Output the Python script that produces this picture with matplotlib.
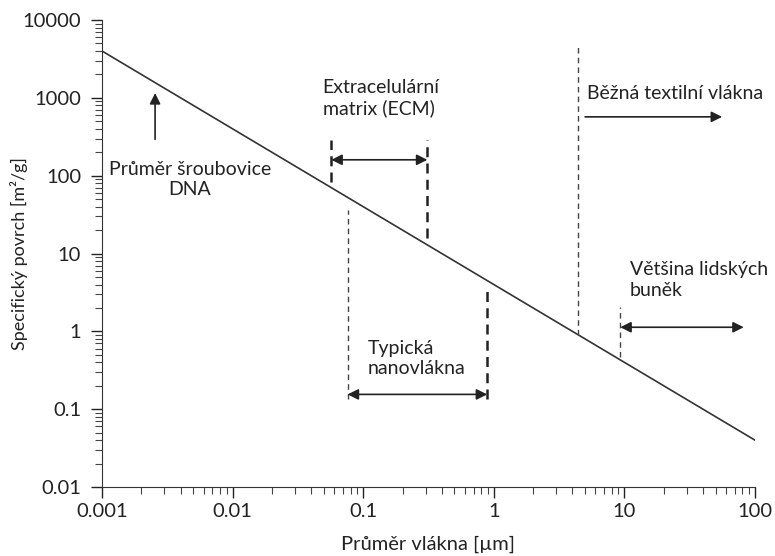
import matplotlib.pyplot as plt

plt.rcParams['font.family'] = ['Lato', 'DejaVu Sans']

# specific surface vs fiber diameter (log-log, slope -1)
diameter = [0.001, 100]
surface = [4000, 0.04]

x_ticks = [0.001, 0.01, 0.1, 1, 10, 100]
x_labels = ['0.001', '0.01', '0.1', '1', '10', '100']
y_ticks = [0.01, 0.1, 1, 10, 100, 1000, 10000]
y_labels = ['0.01', '0.1', '1', '10', '100', '1000', '10000']

dna_diameter = 0.00255
ecm_range = [0.057, 0.31]
nano_range = [0.076, 0.89]
textile_start = 4.4
cells_start = 9.3

fig = plt.figure(figsize=(7.75, 5.56), dpi=100)
ax = fig.add_axes([0.1316, 0.124, 0.8426, 0.840])

ax.plot(diameter, surface, color='#333333', lw=1.2)

ax.set_xscale('log')
ax.set_yscale('log')
ax.set_xlim(0.001, 100)
ax.set_ylim(0.01, 10000)
ax.set_xticks(x_ticks)
ax.set_xticklabels(x_labels)
ax.set_yticks(y_ticks)
ax.set_yticklabels(y_labels)
ax.tick_params(which='major', length=8, width=1, labelsize=14.5, colors='#222222')
ax.tick_params(axis='y', which='major', pad=7)
ax.tick_params(which='minor', length=5, width=0.8, colors='#444444')
for s in ['top', 'right']:
    ax.spines[s].set_visible(False)
for s in ['left', 'bottom']:
    ax.spines[s].set_color('#333333')

ax.set_xlabel('Průměr vlákna [µm]', fontsize=14.5, color='#222222')
ax.set_ylabel('Specifický povrch [m²/g]', fontsize=13, color='#222222')
ax.xaxis.set_label_coords(0.5, -0.103)
ax.yaxis.set_label_coords(-0.113, 0.5)

txt = dict(fontsize=14, color='#222222')
dark = '#222222'

# DNA
ax.annotate('', xy=(dna_diameter, 1250), xytext=(dna_diameter, 270),
            arrowprops=dict(arrowstyle='-|>', color=dark, lw=1.2, mutation_scale=16))
ax.text(0.0047, 90, 'Průměr šroubovice\nDNA', ha='center', va='center',
        multialignment='center', linespacing=1.25, **txt)

# ECM
ax.plot([ecm_range[0]] * 2, [83, 290], ls=(0, (4, 2.5)), color=dark, lw=1.8)
ax.plot([ecm_range[1]] * 2, [16, 290], ls=(0, (4, 2.5)), color=dark, lw=1.8)
ax.annotate('', xy=(ecm_range[0], 160), xytext=(ecm_range[1], 160),
            arrowprops=dict(arrowstyle='<|-|>', color=dark, lw=1.2, mutation_scale=16,
                            shrinkA=0, shrinkB=0))
ax.text(0.049, 1000, 'Extracelulární\nmatrix (ECM)', ha='left', va='center',
        linespacing=1.25, **txt)

# typical nanofibers
ax.plot([nano_range[0]] * 2, [0.135, 36], ls=(0, (4, 3)), color='#444444', lw=1.0)
ax.plot([nano_range[1]] * 2, [0.135, 3.4], ls=(0, (4, 2.5)), color=dark, lw=1.8)
ax.annotate('', xy=(nano_range[0], 0.155), xytext=(nano_range[1], 0.155),
            arrowprops=dict(arrowstyle='<|-|>', color=dark, lw=1.2, mutation_scale=16,
                            shrinkA=0, shrinkB=0))
ax.text(0.108, 0.45, 'Typická\nnanovlákna', ha='left', va='center',
        linespacing=1.25, **txt)

# textile fibers
ax.plot([textile_start] * 2, [0.9, 4800], ls=(0, (4, 3)), color='#444444', lw=1.0)
ax.annotate('', xy=(56, 570), xytext=(5.0, 570),
            arrowprops=dict(arrowstyle='-|>', color=dark, lw=1.2, mutation_scale=16,
                            shrinkA=0, shrinkB=0))
ax.text(5.2, 1150, 'Běžná textilní vlákna', ha='left', va='center', **txt)

# human cells
ax.plot([cells_start] * 2, [0.47, 2.05], ls=(0, (4, 3)), color='#444444', lw=1.0)
ax.annotate('', xy=(cells_start, 1.13), xytext=(82, 1.13),
            arrowprops=dict(arrowstyle='<|-|>', color=dark, lw=1.2, mutation_scale=16,
                            shrinkA=0, shrinkB=0))
ax.text(11, 4.6, 'Většina lidských\nbuněk', ha='left', va='center',
        linespacing=1.25, **txt)

fig.savefig('out.png', dpi=100)
